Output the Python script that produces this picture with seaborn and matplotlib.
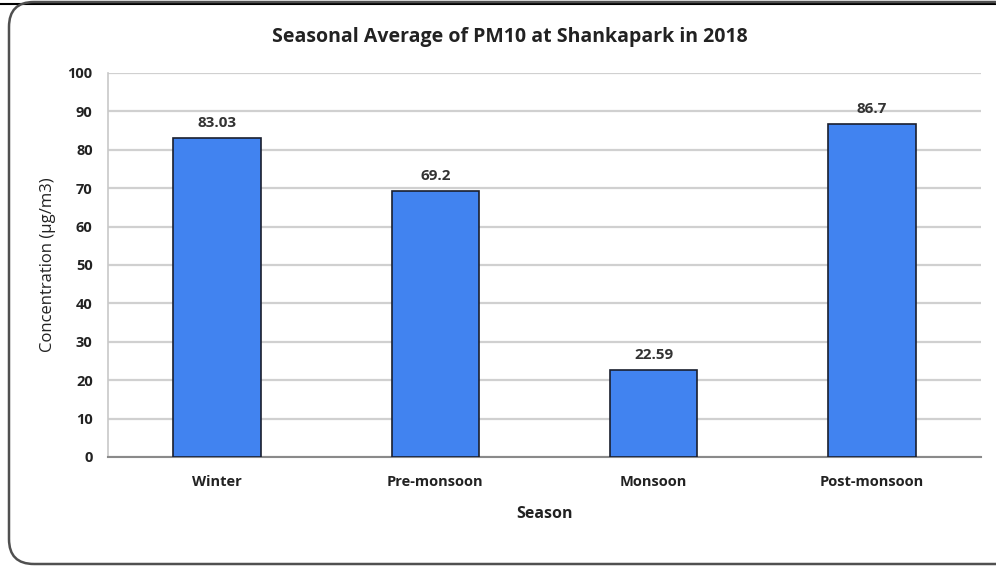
import matplotlib
matplotlib.use("Agg")
import matplotlib.pyplot as plt
import seaborn as sns
import pandas as pd
from matplotlib.patches import FancyBboxPatch
from matplotlib.lines import Line2D

seasons = ["Winter", "Pre-monsoon", "Monsoon", "Post-monsoon"]
values = [83.03, 69.2, 22.59, 86.7]
value_labels = ["83.03", "69.2", "22.59", "86.7"]
yticks = [0, 10, 20, 30, 40, 50, 60, 70, 80, 90, 100]

df = pd.DataFrame({"Season": seasons, "Concentration": values})

sns.set_theme(style="white")
plt.rcParams["font.family"] = ["Open Sans", "DejaVu Sans"]

W, H = 996, 569
fig = plt.figure(figsize=(W / 100, H / 100), dpi=100)
ax = fig.add_axes([108 / W, 1 - 457 / H, (981 - 108) / W, (457 - 73) / H])

sns.barplot(data=df, x="Season", y="Concentration", order=seasons,
            color="#4183F0", saturation=1, width=0.4,
            edgecolor="#1a1f2e", linewidth=1.2, ax=ax, zorder=3)

ax.set_ylim(0, 100)
ax.set_xlim(-0.5, 3.5)
ax.set_yticks(yticks)
ax.set_yticklabels([str(t) for t in yticks], fontsize=10.5, fontweight="bold", color="#222222")
ax.tick_params(axis="x", labelsize=10.5, colors="#222222", length=0, pad=13)
for lbl in ax.get_xticklabels():
    lbl.set_fontweight("bold")
ax.tick_params(axis="y", length=0, pad=11)
ax.yaxis.grid(True, color="#d0d0d0", linewidth=1.6, zorder=0)
ax.set_axisbelow(True)

for s in ["top", "right"]:
    ax.spines[s].set_visible(False)
ax.spines["left"].set_color("#c8c8c8")
ax.spines["bottom"].set_color("#8a8a8a")
ax.spines["left"].set_linewidth(1.2)
ax.spines["bottom"].set_linewidth(1.5)

for container in ax.containers:
    ax.bar_label(container, labels=value_labels, padding=6, fontsize=11,
                 fontweight="bold", color="#333333")

ax.set_xlabel("Season", fontsize=11.5, fontweight="bold", color="#222222", labelpad=12)
ax.set_ylabel("Concentration (µg/m3)", fontsize=12, color="#222222", labelpad=8)

fig.text(510 / W, 1 - 37 / H, "Seasonal Average of PM10 at Shankapark in 2018",
         ha="center", va="center", fontsize=14, fontweight="bold", color="#222222")

box = FancyBboxPatch((9 / W, 5 / H), (1020 - 9) / W, (567 - 5) / H,
                     boxstyle="round,pad=0,rounding_size=0.025",
                     transform=fig.transFigure, fill=False,
                     edgecolor="#505050", linewidth=1.8, zorder=10,
                     mutation_aspect=W / H)
fig.patches.append(box)
fig.lines.append(Line2D([0, 1], [1 - 4 / H, 1 - 4 / H], transform=fig.transFigure,
                        color="black", linewidth=1.5))

fig.savefig("out.png", dpi=100)
